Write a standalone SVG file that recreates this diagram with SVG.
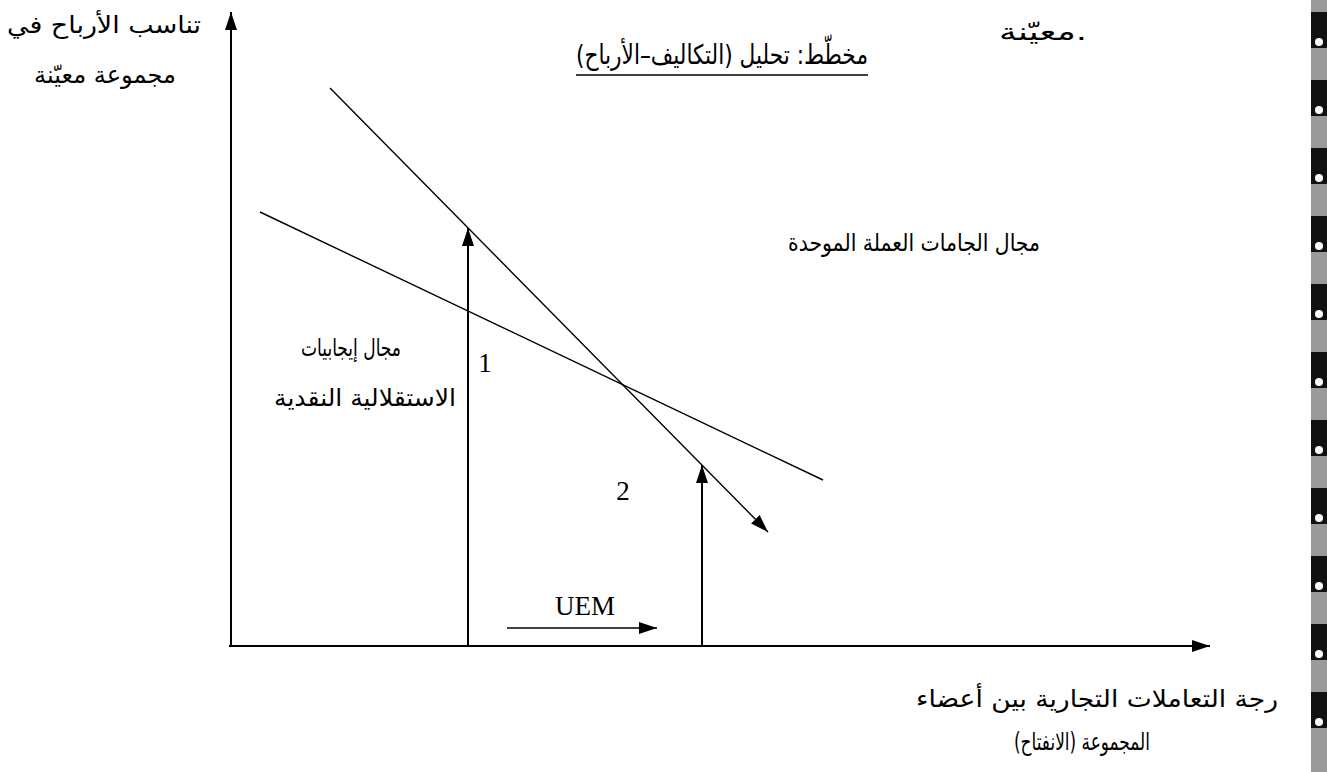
<svg xmlns="http://www.w3.org/2000/svg" width="1327" height="772" viewBox="0 0 1327 772">
<style>
.ar{font-family:"DejaVu Sans","Noto Sans",sans-serif;font-size:24px;fill:#000;text-anchor:middle}
.tt{font-size:27px}
.lt{font-family:"Liberation Serif",serif;font-size:27px;fill:#000;text-anchor:middle}
.ln{stroke:#000;stroke-width:1.4;fill:none}
.ax{stroke:#000;stroke-width:2;fill:none}
.blk{fill:#111}
</style>
<defs>
<marker id="ah" markerUnits="userSpaceOnUse" markerWidth="20" markerHeight="14" refX="18" refY="7" orient="auto" viewBox="0 0 20 14">
<path d="M0,1 L18,7 L0,13 z" fill="#000"/>
</marker>
</defs>
<rect width="1327" height="772" fill="#fff"/>
<g id="connectors">
<line class="ax" x1="231" y1="647" x2="231" y2="12" marker-end="url(#ah)"/>
<line class="ax" x1="229" y1="646" x2="1210" y2="646" marker-end="url(#ah)"/>
<line class="ln" x1="330" y1="88" x2="768" y2="532" marker-end="url(#ah)"/>
<line class="ln" x1="260" y1="212" x2="823" y2="480"/>
<line class="ax" x1="468" y1="646" x2="468" y2="228" marker-end="url(#ah)"/>
<line class="ax" x1="702" y1="646" x2="702" y2="465" marker-end="url(#ah)"/>
<line class="ln" x1="507" y1="628" x2="657" y2="628" marker-end="url(#ah)"/>
</g>
<g id="y-label">
<text class="ar" x="104" y="33" textLength="194" lengthAdjust="spacingAndGlyphs">تناسب الأرباح في</text>
<text class="ar" x="105" y="83" textLength="142" lengthAdjust="spacingAndGlyphs">مجموعة معيّنة</text>
</g>
<g id="top-word">
<text class="ar" x="1043" y="40" textLength="88" lengthAdjust="spacingAndGlyphs">معيّنة.</text>
</g>
<g id="title">
<text class="ar tt" x="722" y="64" textLength="292" lengthAdjust="spacingAndGlyphs">مخطّط: تحليل (التكاليف–الأرباح)</text>
<line x1="576" y1="75" x2="868" y2="75" stroke="#000" stroke-width="1.4"/>
</g>
<g id="costs-zone">
<text class="ar" x="914" y="251" textLength="252" lengthAdjust="spacingAndGlyphs">مجال الجامات العملة الموحدة</text>
</g>
<g id="benefits-zone">
<text class="ar" x="351" y="356" textLength="100" lengthAdjust="spacingAndGlyphs">مجال إيجابيات</text>
<text class="ar" x="365" y="406" textLength="182" lengthAdjust="spacingAndGlyphs">الاستقلالية النقدية</text>
</g>
<g id="label-1"><text class="lt" x="485" y="372">1</text></g>
<g id="label-2"><text class="lt" x="623" y="500">2</text></g>
<g id="label-uem"><text class="lt" x="585" y="615">UEM</text></g>
<g id="x-label">
<text class="ar" x="1097" y="707" textLength="362" lengthAdjust="spacingAndGlyphs">رجة التعاملات التجارية بين أعضاء</text>
<text class="ar" x="1082" y="750" textLength="136" lengthAdjust="spacingAndGlyphs">المجموعة (الانفتاح)</text>
</g>
<g id="edge-strip">
<rect x="1311" y="0" width="16" height="772" fill="#9a9a9a"/>
<rect class="blk" x="1311" y="12" width="16" height="36"/>
<rect class="blk" x="1311" y="80" width="16" height="36"/>
<rect class="blk" x="1311" y="148" width="16" height="36"/>
<rect class="blk" x="1311" y="216" width="16" height="36"/>
<rect class="blk" x="1311" y="284" width="16" height="36"/>
<rect class="blk" x="1311" y="352" width="16" height="36"/>
<rect class="blk" x="1311" y="420" width="16" height="36"/>
<rect class="blk" x="1311" y="488" width="16" height="36"/>
<rect class="blk" x="1311" y="556" width="16" height="36"/>
<rect class="blk" x="1311" y="624" width="16" height="36"/>
<rect class="blk" x="1311" y="692" width="16" height="36"/>
<g fill="#fff">
<circle cx="1319" cy="42" r="4"/><circle cx="1319" cy="110" r="4"/><circle cx="1319" cy="178" r="4"/><circle cx="1319" cy="246" r="4"/><circle cx="1319" cy="314" r="4"/><circle cx="1319" cy="382" r="4"/><circle cx="1319" cy="450" r="4"/><circle cx="1319" cy="518" r="4"/><circle cx="1319" cy="586" r="4"/><circle cx="1319" cy="654" r="4"/><circle cx="1319" cy="722" r="4"/>
</g>
</g>
</svg>
